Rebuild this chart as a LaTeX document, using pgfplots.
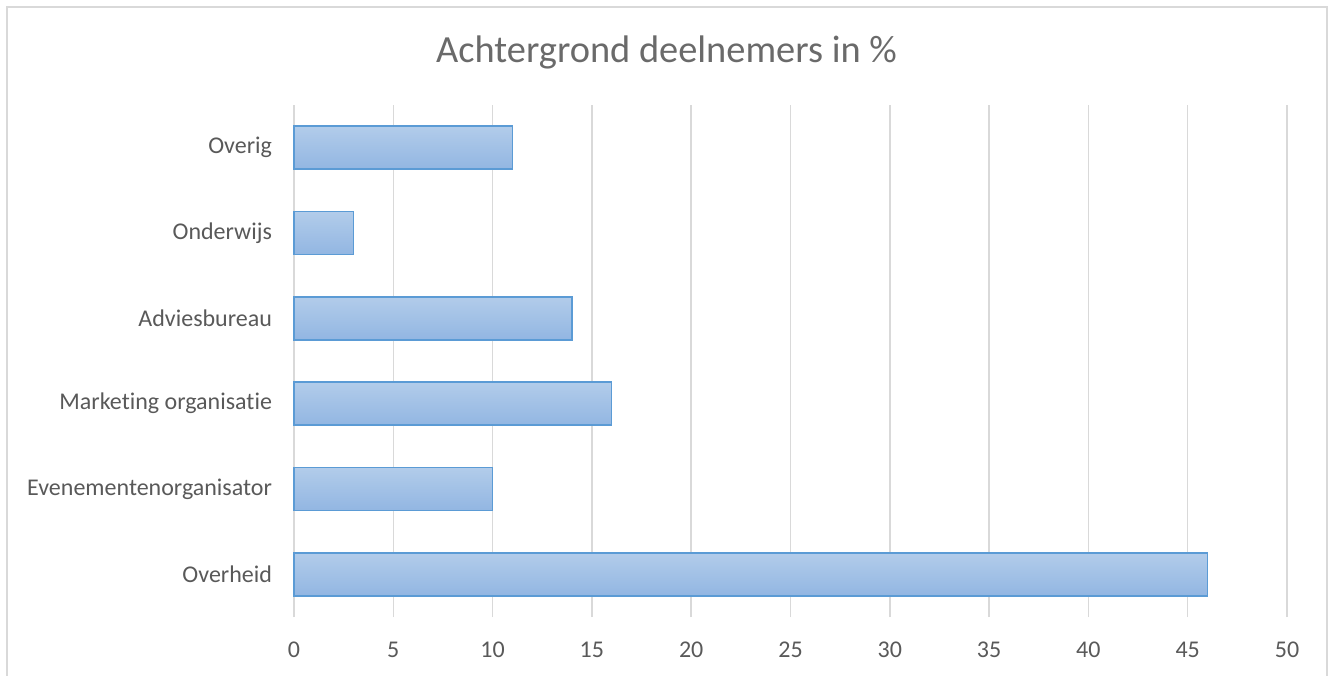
\documentclass[border=0pt]{standalone}
\usepackage{fontspec}
\setmainfont{Carlito}[Ligatures=NoCommon]
\usepackage{pgfplots}
\pgfplotsset{compat=1.18}
\definecolor{txt}{HTML}{595959}
\definecolor{ttl}{HTML}{6A6A6A}
\definecolor{grd}{HTML}{D9D9D9}
\definecolor{barline}{HTML}{5B9BD5}
\definecolor{bartop}{HTML}{B2CCEA}
\definecolor{barbot}{HTML}{92B6E2}
\tikzset{mybar/.style={draw=barline, line width=1.1pt, top color=bartop, bottom color=barbot}}
\begin{document}
\begin{tikzpicture}[x=0.75pt,y=0.75pt]
\useasboundingbox (0,0) rectangle (1333,675);
\draw[grd, line width=1.1pt] (7,-20) -- (7,668) -- (1327,668) -- (1327,-20);
\node[anchor=base, text=ttl, font=\fontsize{28.8}{34}\selectfont] at (666.5,612) {Achtergrond deelnemers in \%};
\begin{axis}[
  at={(220.5pt,43.5pt)}, anchor=south west,
  scale only axis, width=744.75pt, height=384pt,
  xbar, bar width=32.25pt, bar shift=0pt,
  xmin=0, xmax=50, ymin=-0.5, ymax=5.5,
  xtick={0,5,...,50},
  ytick={0,1,2,3,4,5},
  yticklabels={Overheid,Evenementenorganisator,Marketing organisatie,Adviesbureau,Onderwijs,Overig},
  axis line style={draw=none},
  major tick length=0pt,
  xmajorgrids, grid style={grd, line width=1.1pt},
  tick label style={text=txt, font=\fontsize{18}{22}\selectfont},
  /pgf/number format/assume math mode=true,
  xticklabel style={yshift=-15pt},
  yticklabel style={xshift=-13pt},
  clip=false,
]
\addplot[mybar] coordinates {(46,0)};
\addplot[mybar] coordinates {(10,1)};
\addplot[mybar] coordinates {(16,2)};
\addplot[mybar] coordinates {(14,3)};
\addplot[mybar] coordinates {(3,4)};
\addplot[mybar] coordinates {(11,5)};
\end{axis}
\end{tikzpicture}
\end{document}
